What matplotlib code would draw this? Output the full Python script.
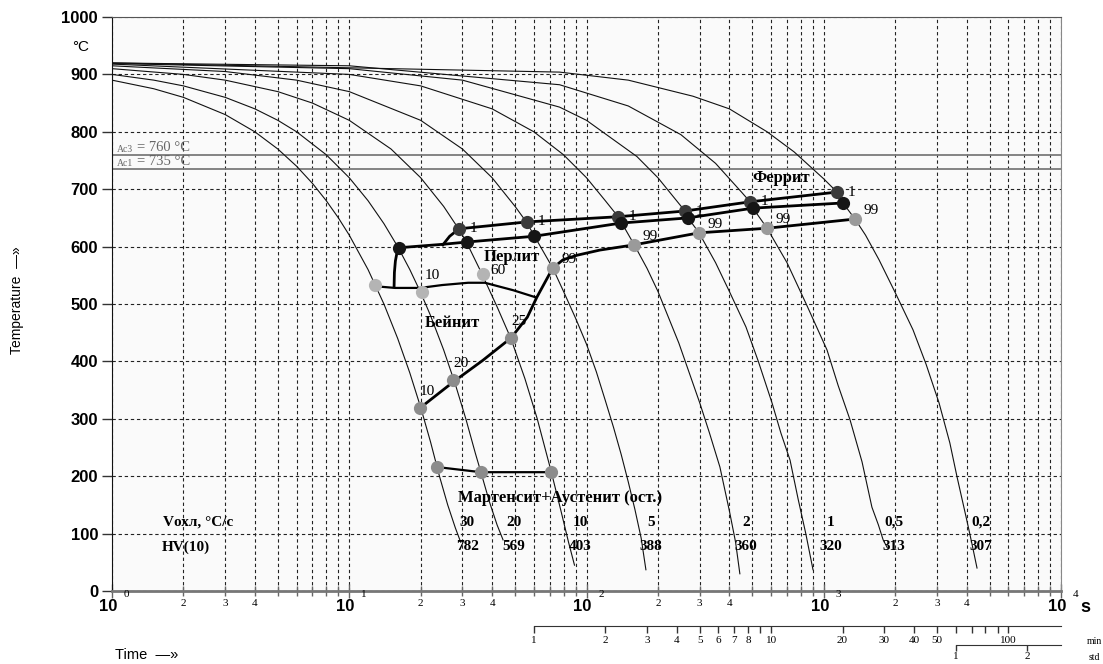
import numpy as np
import matplotlib
matplotlib.use('Agg')
import matplotlib.pyplot as plt
from matplotlib.ticker import LogLocator, NullLocator, NullFormatter

plt.rcParams['font.family'] = ['Liberation Serif', 'DejaVu Serif']

# cooling curves, time in s, temperature in degC
t_30 = [1, 1.5, 2, 3, 4, 5, 6, 7, 8, 9, 10, 12, 14, 16, 18, 20, 22, 24, 26, 28, 29.5]
T_30 = [890, 875, 860, 830, 800, 770, 740, 710, 680, 650, 620, 560, 500, 440, 380, 320, 260, 200, 150, 110, 85]
t_20 = [1, 1.5, 2, 3, 4, 5, 6, 8, 10, 12, 14, 16, 18, 20, 22, 25, 28, 31, 34, 36, 39, 42, 44.5]
T_20 = [900, 890, 880, 860, 840, 820, 800, 760, 720, 680, 640, 600, 560, 520, 480, 420, 360, 300, 240, 205, 155, 115, 89]
t_10 = [1, 2, 3, 5, 7, 10, 15, 20, 25, 29, 31, 36, 42, 48, 55, 62, 71, 78, 84, 89]
T_10 = [910, 900, 890, 870, 850, 820, 770, 720, 670, 630, 610, 555, 495, 440, 370, 300, 208, 140, 85, 45]
t_5 = [1, 3, 6, 10, 20, 30, 40, 50, 56, 60, 72, 80, 90, 100, 110, 120, 130, 140, 150, 160, 170, 178]
T_5 = [915, 905, 890, 870, 820, 770, 720, 670, 642, 620, 563, 522, 475, 430, 382, 332, 285, 238, 190, 142, 92, 37]
t_2 = [1, 10, 20, 40, 60, 80, 100, 120, 136, 140, 159, 180, 200, 245, 300, 330, 365, 400, 425, 443]
T_2 = [918, 900, 880, 840, 800, 760, 720, 680, 652, 643, 603, 562, 522, 432, 328, 275, 216, 140, 85, 30]
t_1 = [1, 10, 30, 77, 100, 163, 200, 260, 268, 298, 350, 400, 470, 530, 605, 660, 721, 780, 840, 901]
T_1 = [919, 910, 890, 843, 820, 757, 720, 662, 650, 624, 572, 522, 460, 400, 328, 275, 228, 160, 100, 37]
t_05 = [1, 10, 77, 150, 250, 350, 450, 489, 503, 577, 700, 850, 1032, 1150, 1291, 1450, 1596, 1700, 1780, 1850]
T_05 = [920, 915, 882, 845, 795, 745, 695, 678, 667, 632, 572, 497, 420, 358, 298, 225, 146, 115, 89, 76]
t_02 = [1, 77, 150, 281, 400, 577, 750, 901, 1000, 1137, 1205, 1354, 1500, 1710, 2000, 2378, 2700, 3060, 3400, 3645, 4000, 4200, 4426]
T_02 = [920, 904, 890, 862, 840, 800, 765, 735, 718, 695, 676, 648, 620, 577, 520, 455, 395, 328, 258, 199, 125, 85, 40]

rates = ['30', '20', '10', '5', '2', '1', '0,5', '0,2']
hardness = ['782', '569', '403', '388', '360', '320', '313', '307']
label_t = [31.4, 49.5, 93.9, 187, 470, 1073, 1977, 4600]

# transformation lines
ferrite_t = [24.8, 26.5, 29, 56.1, 135.8, 260, 489, 1137]
ferrite_T = [603, 618, 631, 643, 652, 662, 678, 695]
pearl_t = [15.45, 15.5, 15.65, 15.9, 16.2, 20, 24.8, 31.4, 60.1, 139.8, 268, 503, 1205]
pearl_T = [530, 555, 575, 590, 598, 601, 604, 608, 618, 641, 650, 667, 676]
p99_t = [19.9, 27.4, 36.6, 48.1, 56.3, 61.8, 70.2, 72.3, 79.6, 91.3, 114, 158.6, 298, 577, 1354]
p99_T = [319, 364, 402, 441, 477, 512, 554, 563, 577, 585, 594, 603, 624, 632, 648]
bain_t = [12.8, 15.6, 19.9, 24.6, 31.7, 37.3, 49.1, 60.7]
bain_T = [531, 528, 528, 533, 537, 537, 524, 512]
mart_t = [23.4, 35.9, 70.8]
mart_T = [216, 207, 207]

# marked points
fer_pts_t = [29, 56.1, 135.8, 260, 489, 1137]
fer_pts_T = [631, 643, 652, 662, 678, 695]
prl_pts_t = [16.2, 31.4, 60.1, 139.8, 268, 503, 1205]
prl_pts_T = [598, 608, 618, 641, 650, 667, 676]
bs_pts_t = [12.8, 20.3, 36.6]
bs_pts_T = [533, 521, 553]
bs_pts_lab = ['', '10', '60']
s_pts_t = [19.9, 27.4, 48.1]
s_pts_T = [319, 368, 441]
s_pts_lab = ['10', '20', '25']
p99_pts_t = [72.3, 158.6, 298, 577, 1354]
p99_pts_T = [563, 603, 624, 632, 648]

fig = plt.figure(figsize=(11.03, 6.64), dpi=100)
ax = fig.add_axes([112/1103, 73/664, 949/1103, 574/664])
ax.set_facecolor('#fafafa')
ax.set_xscale('log')
ax.set_xlim(1, 1e4)
ax.set_ylim(0, 1000)
ax.set_axisbelow(True)

ax.xaxis.set_major_locator(LogLocator(base=10, numticks=10))
ax.xaxis.set_minor_locator(LogLocator(base=10, subs=np.arange(2, 10), numticks=50))
ax.xaxis.set_minor_formatter(NullFormatter())
ax.set_yticks(range(0, 1001, 100))
ax.grid(True, which='both', axis='x', ls=(0, (3, 2.5)), color='#222', lw=0.8)
ax.grid(True, which='major', axis='y', ls=(0, (3, 2.5)), color='#222', lw=0.8)

ax.tick_params(axis='x', which='major', direction='inout', length=10, width=1, color='#666', labelbottom=False)
ax.tick_params(axis='x', which='minor', direction='inout', length=7, width=1, color='#666')
ax.tick_params(axis='y', direction='out', length=7, width=1, color='#333', labelsize=12, pad=3)
for lab in ax.get_yticklabels():
    lab.set_fontfamily('Liberation Sans')
    lab.set_fontweight('bold')

ax.spines['bottom'].set_color('#777')
ax.spines['bottom'].set_linewidth(2)
ax.spines['top'].set_color('#555')
ax.spines['right'].set_color('#888')
ax.spines['left'].set_color('#111')

# Ac lines
ax.axhline(760, color='#7a7a7a', lw=1.3)
ax.axhline(735, color='#7a7a7a', lw=1.3)
ax.text(1.05, 762, 'Ac3', fontsize=7, color='#666', va='bottom')
ax.text(1.27, 762, '= 760 °C', fontsize=10.5, color='#666', va='bottom')
ax.text(1.05, 737, 'Ac1', fontsize=7, color='#666', va='bottom')
ax.text(1.27, 737, '= 735 °C', fontsize=10.5, color='#666', va='bottom')

# cooling curves
curves = [(t_30, T_30), (t_20, T_20), (t_10, T_10), (t_5, T_5),
          (t_2, T_2), (t_1, T_1), (t_05, T_05), (t_02, T_02)]
for t, T in curves:
    ax.plot(t, T, color='#111', lw=0.8)

# transformation lines
ax.plot(ferrite_t, ferrite_T, color='#000', lw=2)
ax.plot(pearl_t, pearl_T, color='#000', lw=2)
ax.plot(p99_t, p99_T, color='#000', lw=2)
ax.plot(bain_t, bain_T, color='#000', lw=1.6)
ax.plot(mart_t, mart_T, color='#000', lw=1.6)

ms = 9.5
ax.plot(fer_pts_t, fer_pts_T, 'o', color='#3a3a3a', ms=ms, mew=0)
ax.plot(prl_pts_t, prl_pts_T, 'o', color='#151515', ms=ms, mew=0)
ax.plot(bs_pts_t, bs_pts_T, 'o', color='#b4b4b4', ms=ms, mew=0)
ax.plot(s_pts_t, s_pts_T, 'o', color='#8c8c8c', ms=ms, mew=0)
ax.plot(p99_pts_t, p99_pts_T, 'o', color='#9a9a9a', ms=ms, mew=0)
ax.plot(mart_t, mart_T, 'o', color='#8c8c8c', ms=ms, mew=0)

for t, T in zip(fer_pts_t, fer_pts_T):
    ax.annotate('1', (t, T), xytext=(8, 0), textcoords='offset points', fontsize=11, va='center')
for t, T in zip(p99_pts_t, p99_pts_T):
    ax.annotate('99', (t, T), xytext=(6, 6), textcoords='offset points', fontsize=11, va='center')
for t, T, s in zip(bs_pts_t, bs_pts_T, bs_pts_lab):
    dx, dy = (2, 12) if s == '10' else (5, 2)
    ax.annotate(s, (t, T), xytext=(dx, dy), textcoords='offset points', fontsize=11, va='center')
for t, T, s in zip(s_pts_t, s_pts_T, s_pts_lab):
    ax.annotate(s, (t, T), xytext=(0, 12), textcoords='offset points', fontsize=11, va='center')

bold = dict(fontsize=12, fontweight='bold', ha='center', va='center')
ax.text(661, 719, 'Феррит', **bold)
ax.text(48.5, 582, 'Перлит', **bold)
ax.text(27.1, 467, 'Бейнит', **bold)
ax.text(77.3, 162, 'Мартенсит+Аустенит (ост.)', **bold)

row = dict(fontsize=11, fontweight='bold', ha='center', va='center')
ax.text(2.3, 120, 'Vохл, °С/с', **row)
ax.text(2.05, 77, 'HV(10)', **row)
for t, r, h in zip(label_t, rates, hardness):
    ax.text(t, 120, r, **row)
    ax.text(t, 77, h, **row)

# x tick labels
xt = ax.get_xaxis_transform()
for d in range(5):
    ax.text(10**d * 0.962, -0.027, '10', transform=xt, fontsize=12, family='Liberation Sans',
            fontweight='bold', ha='center', va='center', clip_on=False)
    ax.text(10**d * 1.12, -0.006, str(d), transform=xt, fontsize=8, ha='left', va='center', clip_on=False)
    if d < 4:
        for m in (2, 3, 4):
            ax.text(m * 10**d, -0.022, str(m), transform=xt, fontsize=8, ha='center', va='center',
                    clip_on=False)

# minutes and hours scales
min_ticks = [1, 2, 3, 4, 5, 6, 7, 8, 9, 10, 20, 30, 40, 50, 60, 70, 80, 90, 100]
min_labels = ['1', '2', '3', '4', '5', '6', '7', '8', '', '10', '20', '30', '40', '50', '', '', '', '', '100']
sec_min = ax.secondary_xaxis(-0.061, functions=(lambda x: x / 60, lambda x: x * 60))
sec_min.set_xticks(min_ticks, labels=min_labels)
sec_min.xaxis.set_minor_locator(NullLocator())
sec_min.tick_params(direction='out', length=5, width=1, labelsize=8, pad=2, color='#333')
sec_min.spines['bottom'].set_bounds(1, 1e4 / 60)
sec_min.spines['bottom'].set_color('#333')

sec_h = ax.secondary_xaxis(-0.094, functions=(lambda x: x / 3600, lambda x: x * 3600))
sec_h.set_xticks([1, 2], labels=['1', '2'])
sec_h.xaxis.set_minor_locator(NullLocator())
sec_h.tick_params(direction='out', length=4, width=1, labelsize=8, pad=1, color='#333')
sec_h.spines['bottom'].set_bounds(1, 1e4 / 3600)
sec_h.spines['bottom'].set_color('#333')

fig.text(1094/1103, 1 - 641/664, 'min', fontsize=7, ha='center', va='center')
fig.text(1094/1103, 1 - 657/664, 'std', fontsize=7, ha='center', va='center')
fig.text(1085/1103, 1 - 607/664, 's', fontsize=13, family='Liberation Sans', fontweight='bold',
         ha='center', va='center')
fig.text(81/1103, 1 - 47/664, '°C', fontsize=11, family='Liberation Sans', ha='center', va='center')
fig.text(115/1103, 1 - 655/664, 'Time  —»', fontsize=10.5, family='Liberation Sans', ha='left', va='center')
fig.text(17/1103, 1 - 300/664, 'Temperature  —»', fontsize=10, family='Liberation Sans',
         rotation=90, ha='center', va='center')

fig.savefig('out.png', dpi=100)
